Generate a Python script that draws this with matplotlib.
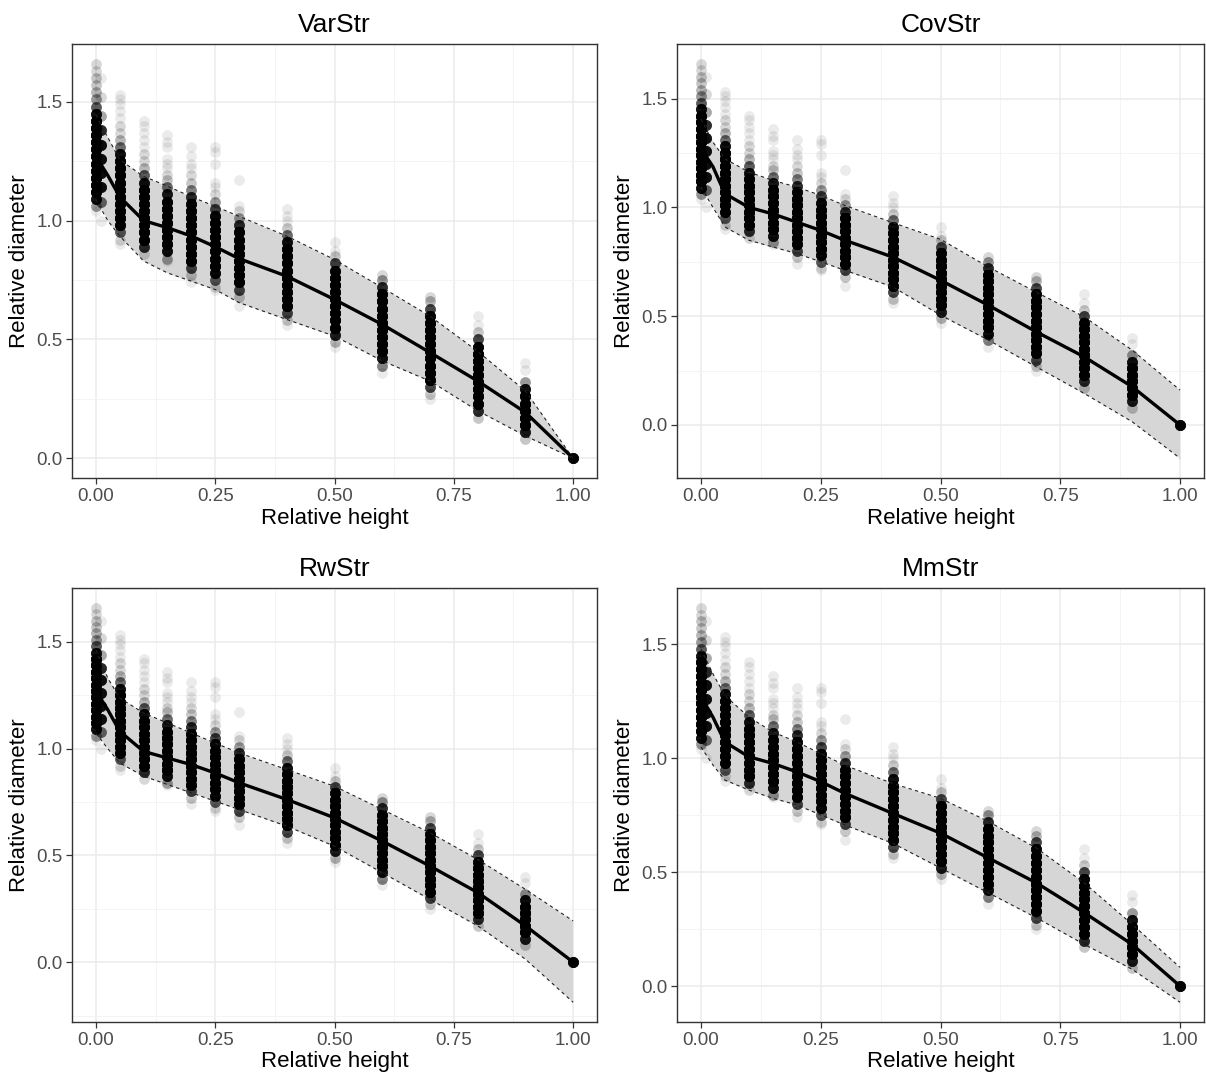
import numpy as np
import matplotlib
matplotlib.use("Agg")
from matplotlib import pyplot as plt
from matplotlib.ticker import MultipleLocator

plt.rcParams['font.family'] = ['Liberation Sans', 'DejaVu Sans']

# ---- observed stem profiles (same data in every panel) ----
# each column: relative height, list of relative diameters, how many trees at each
obs_x = [0.0, 0.01, 0.05, 0.10, 0.15, 0.20, 0.25, 0.30, 0.40, 0.50, 0.60, 0.70, 0.80, 0.90, 1.00]
obs_y = [
    [1.66, 1.63, 1.60, 1.57, 1.54, 1.51, 1.48, 1.45, 1.42, 1.39, 1.36, 1.33, 1.30, 1.27, 1.24, 1.21, 1.18, 1.15, 1.12, 1.09, 1.06, 1.04],
    [1.60, 1.52, 1.44, 1.38, 1.32, 1.26, 1.20, 1.14, 1.08, 1.00],
    [1.53, 1.51, 1.49, 1.46, 1.43, 1.40, 1.37, 1.34, 1.31, 1.28, 1.25, 1.22, 1.19, 1.16, 1.13, 1.10, 1.07, 1.04, 1.01, 0.98, 0.95, 0.92, 0.90],
    [1.42, 1.40, 1.37, 1.34, 1.31, 1.28, 1.25, 1.22, 1.19, 1.16, 1.13, 1.10, 1.07, 1.04, 1.01, 0.98, 0.95, 0.92, 0.89, 0.86],
    [1.36, 1.33, 1.31, 1.26, 1.24, 1.22, 1.19, 1.17, 1.14, 1.11, 1.08, 1.05, 1.02, 0.99, 0.96, 0.93, 0.90, 0.87, 0.84, 0.83],
    [1.31, 1.27, 1.24, 1.22, 1.19, 1.16, 1.13, 1.10, 1.07, 1.04, 1.01, 0.98, 0.95, 0.92, 0.89, 0.86, 0.83, 0.80, 0.77, 0.74],
    [1.31, 1.29, 1.24, 1.16, 1.14, 1.11, 1.08, 1.05, 1.02, 0.99, 0.96, 0.93, 0.90, 0.87, 0.84, 0.81, 0.78, 0.75, 0.72, 0.71],
    [1.17, 1.06, 1.04, 1.01, 0.98, 0.95, 0.92, 0.89, 0.86, 0.83, 0.80, 0.77, 0.74, 0.71, 0.68, 0.64],
    [1.05, 1.02, 1.00, 0.97, 0.94, 0.91, 0.88, 0.85, 0.82, 0.79, 0.76, 0.73, 0.70, 0.67, 0.64, 0.61, 0.58, 0.56],
    [0.91, 0.87, 0.85, 0.82, 0.79, 0.76, 0.73, 0.70, 0.67, 0.64, 0.61, 0.58, 0.55, 0.52, 0.49, 0.47],
    [0.77, 0.75, 0.72, 0.69, 0.66, 0.63, 0.60, 0.57, 0.54, 0.51, 0.48, 0.45, 0.42, 0.39, 0.36],
    [0.68, 0.66, 0.63, 0.60, 0.57, 0.54, 0.51, 0.48, 0.45, 0.42, 0.39, 0.36, 0.33, 0.30, 0.27, 0.25],
    [0.60, 0.56, 0.53, 0.50, 0.47, 0.44, 0.41, 0.38, 0.35, 0.32, 0.29, 0.26, 0.23, 0.20, 0.17],
    [0.40, 0.37, 0.32, 0.29, 0.26, 0.23, 0.20, 0.17, 0.14, 0.11, 0.08],
    [0.00],
]
obs_n = [
    [2, 2, 3, 3, 4, 6, 12, 30, 50, 60, 60, 60, 60, 60, 60, 60, 60, 60, 50, 30, 6, 1],
    [1, 2, 5, 20, 30, 30, 30, 30, 10, 1],
    [1, 1, 1, 1, 1, 2, 2, 4, 10, 30, 50, 60, 60, 60, 60, 60, 60, 60, 60, 40, 12, 2, 1],
    [1, 1, 1, 1, 1, 2, 2, 4, 12, 30, 50, 60, 60, 60, 60, 60, 60, 50, 20, 2],
    [1, 1, 1, 1, 1, 1, 2, 3, 10, 25, 45, 60, 60, 60, 60, 60, 60, 30, 5, 1],
    [1, 1, 1, 1, 2, 3, 8, 20, 40, 60, 60, 60, 60, 60, 60, 60, 45, 15, 3, 1],
    [1, 1, 1, 1, 1, 2, 6, 15, 35, 55, 60, 60, 60, 60, 60, 55, 35, 12, 2, 1],
    [1, 1, 2, 6, 20, 45, 60, 60, 60, 60, 60, 60, 45, 15, 3, 1],
    [1, 1, 1, 3, 10, 30, 50, 60, 60, 60, 60, 60, 60, 60, 45, 15, 3, 1],
    [1, 1, 3, 15, 40, 60, 60, 60, 60, 60, 60, 60, 50, 25, 4, 1],
    [2, 6, 20, 45, 60, 60, 60, 60, 60, 60, 60, 50, 30, 8, 1],
    [2, 4, 15, 40, 60, 60, 60, 60, 60, 60, 60, 60, 45, 15, 3, 1],
    [1, 1, 3, 15, 40, 60, 60, 60, 60, 60, 60, 60, 50, 20, 3],
    [1, 1, 6, 30, 55, 60, 60, 60, 55, 25, 3],
    [40],
]

# ---- fitted mean and prediction band for each variance structure ----
fit_x = [0.0, 0.025, 0.05, 0.10, 0.15, 0.20, 0.25, 0.30, 0.40, 0.50, 0.60, 0.70, 0.80, 0.90, 1.00]
titles = ["VarStr", "CovStr", "RwStr", "MmStr"]
mean_vals = {
    "VarStr": [1.27, 1.19, 1.10, 1.00, 0.97, 0.935, 0.89, 0.84, 0.766, 0.668, 0.563, 0.445, 0.325, 0.193, 0.0],
    "CovStr": [1.27, 1.187, 1.063, 1.00, 0.97, 0.932, 0.894, 0.849, 0.772, 0.665, 0.55, 0.428, 0.313, 0.176, 0.0],
    "RwStr":  [1.27, 1.182, 1.081, 0.987, 0.956, 0.925, 0.886, 0.84, 0.762, 0.676, 0.567, 0.45, 0.326, 0.17, 0.0],
    "MmStr":  [1.27, 1.18, 1.071, 1.006, 0.977, 0.94, 0.897, 0.846, 0.758, 0.671, 0.562, 0.453, 0.322, 0.183, 0.0],
}
upper_vals = {
    "VarStr": [1.445, 1.35, 1.256, 1.186, 1.145, 1.10, 1.06, 1.018, 0.935, 0.836, 0.718, 0.598, 0.45, 0.283, 0.0],
    "CovStr": [1.406, 1.30, 1.223, 1.162, 1.124, 1.093, 1.055, 1.009, 0.93, 0.853, 0.726, 0.61, 0.497, 0.344, 0.16],
    "RwStr":  [1.463, 1.33, 1.237, 1.167, 1.12, 1.073, 1.026, 0.98, 0.902, 0.824, 0.715, 0.606, 0.481, 0.341, 0.193],
    "MmStr":  [1.479, 1.37, 1.275, 1.18, 1.115, 1.071, 1.02, 0.969, 0.889, 0.824, 0.722, 0.606, 0.453, 0.271, 0.082],
}
lower_vals = {
    "VarStr": [1.088, 1.00, 0.935, 0.83, 0.78, 0.745, 0.71, 0.655, 0.584, 0.514, 0.41, 0.325, 0.20, 0.094, 0.0],
    "CovStr": [1.093, 1.00, 0.91, 0.849, 0.818, 0.788, 0.75, 0.711, 0.635, 0.505, 0.39, 0.267, 0.145, 0.015, -0.153],
    "RwStr":  [1.073, 1.00, 0.933, 0.871, 0.832, 0.793, 0.754, 0.715, 0.637, 0.543, 0.419, 0.294, 0.17, 0.014, -0.188],
    "MmStr":  [1.049, 0.97, 0.904, 0.86, 0.824, 0.795, 0.751, 0.707, 0.627, 0.518, 0.409, 0.30, 0.183, 0.074, -0.071],
}

# flatten observations
px, py = [], []
for x, ys, ns in zip(obs_x, obs_y, obs_n):
    for y, n in zip(ys, ns):
        px += [x] * n
        py += [y] * n

W, H = 1206, 1080
fig = plt.figure(figsize=(W / 100, H / 100), dpi=100)
fig.patch.set_facecolor("white")

# panel boxes in pixels: left, top, right, bottom
boxes = [(72, 44, 597, 478), (677, 44, 1204, 478),
         (72, 588, 597, 1022), (677, 588, 1204, 1022)]

for name, (l, t, r, b) in zip(titles, boxes):
    ax = fig.add_axes([l / W, 1 - b / H, (r - l) / W, (b - t) / H])
    ax.set_facecolor("white")

    up = upper_vals[name]
    lo = lower_vals[name]
    ax.fill_between(fit_x, lo, up, color="#d6d6d6", lw=0.6, edgecolor="#eeeeee", zorder=1)
    ax.scatter(px, py, s=60, color="black", alpha=0.08, linewidths=0, zorder=2)
    ax.plot(fit_x, mean_vals[name], color="black", lw=2.4, zorder=3)
    ax.plot(fit_x, up, color="#222222", lw=0.8, ls=(0, (3, 3)), zorder=4)
    ax.plot(fit_x, lo, color="#222222", lw=0.8, ls=(0, (3, 3)), zorder=4)

    # ggplot style 5% expansion
    ymin = min(min(py), min(lo))
    ymax = max(max(py), max(up))
    pad = (ymax - ymin) * 0.05
    ax.set_ylim(ymin - pad, ymax + pad)
    ax.set_xlim(-0.05, 1.05)

    ax.xaxis.set_minor_locator(MultipleLocator(0.125))
    ax.yaxis.set_minor_locator(MultipleLocator(0.25))
    ax.set_xticks([0, 0.25, 0.5, 0.75, 1.0])
    ax.set_xticklabels(["0.00", "0.25", "0.50", "0.75", "1.00"])
    yt = [v for v in [0.0, 0.5, 1.0, 1.5] if ymin - pad <= v <= ymax + pad]
    ax.set_yticks(yt)
    ax.set_yticklabels(["%.1f" % v for v in yt])

    ax.grid(which="major", color="#ebebeb", lw=1.1, zorder=0)
    ax.grid(which="minor", color="#f3f3f3", lw=0.6, zorder=0)
    ax.set_axisbelow(True)
    ax.tick_params(which="major", direction="out", length=4, width=0.9, color="#333333",
                   labelsize=13.5, labelcolor="#4d4d4d", pad=3)
    ax.tick_params(which="minor", length=0)
    for sp in ax.spines.values():
        sp.set_color("#333333")
        sp.set_linewidth(1.0)

    ax.set_title(name, fontsize=19, pad=9)
    ax.set_xlabel("Relative height", fontsize=16, labelpad=2)
    ax.set_ylabel("Relative diameter", fontsize=16, labelpad=4)

plt.savefig("out.png", dpi=100)
